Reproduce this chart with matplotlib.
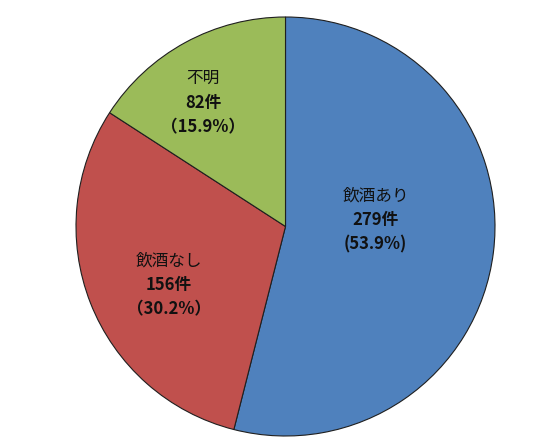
import matplotlib
matplotlib.use("Agg")
import matplotlib.pyplot as plt

plt.rcParams['font.family'] = ['Noto Sans CJK JP', 'DejaVu Sans']

# data
categories = ["飲酒あり", "飲酒なし", "不明"]
counts = [279, 156, 82]
pct_labels = ["(53.9%)", "（30.2%）", "（15.9%）"]

colors = ["#4F81BD", "#C0504D", "#9BBB59"]
# label centres in radius units relative to pie centre
label_pos = [(0.43, 0.03), (-0.556, -0.28), (-0.394, 0.59)]

fig = plt.figure(figsize=(5.42, 4.48), dpi=100)
ax = fig.add_axes([76 / 542, 12 / 448, 419 / 542, 419 / 448])

wedges, _ = ax.pie(counts, colors=colors, startangle=90, counterclock=False,
                   radius=1.0, wedgeprops=dict(edgecolor="#1f1f1f", linewidth=0.8))
ax.set_xlim(-1.0, 1.0)
ax.set_ylim(-1.0, 1.0)
ax.set_aspect("equal")
ax.axis("off")

line_gap = 0.116  # spacing between label lines in radius units
for name, n, pct, (x, y) in zip(categories, counts, pct_labels, label_pos):
    ax.text(x, y + line_gap, name, ha="center", va="center", fontsize=12, color="#111111")
    ax.text(x, y, f"{n}件", ha="center", va="center", fontsize=12, fontweight="bold", color="#111111")
    ax.text(x, y - line_gap, pct, ha="center", va="center", fontsize=12, fontweight="bold", color="#111111")

fig.savefig("out.png", dpi=100)
